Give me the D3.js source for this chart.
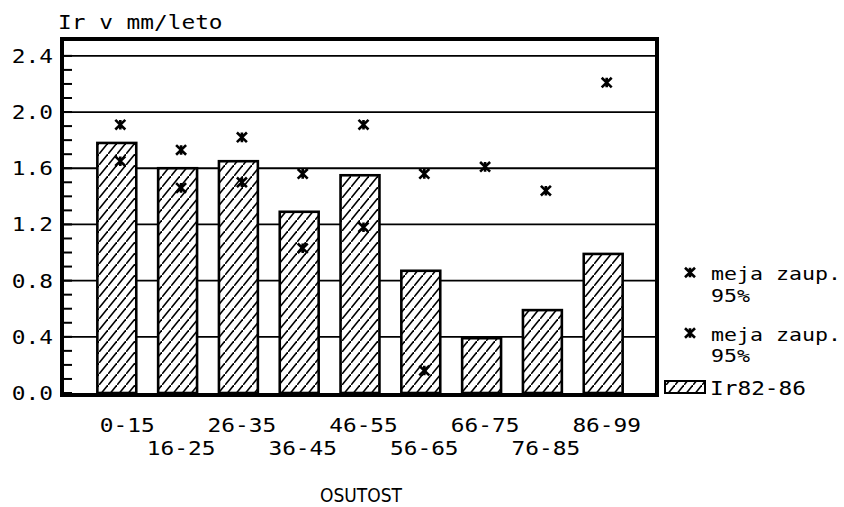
<!DOCTYPE html>
<html>
<head>
<meta charset="utf-8">
<script src="https://cdn.jsdelivr.net/npm/d3@7/dist/d3.min.js"></script>
<style>
  html, body { margin: 0; padding: 0; background: #fff; }
  svg { display: block; }
  text { font-family: "DejaVu Sans Mono", monospace; fill: #000; white-space: pre; }
</style>
</head>
<body>
<svg id="chart" width="844" height="507"></svg>
<script>
// Age-class categories (defoliation, %)
const categories = ["0-15", "16-25", "26-35", "36-45", "46-55", "56-65", "66-75", "76-85", "86-99"];
// Mean increment Ir 1982-86, mm per year
const irValues = [1.78, 1.60, 1.65, 1.29, 1.55, 0.87, 0.39, 0.59, 0.99];
// 95% confidence limits (upper and lower); lower limit below zero is not drawn
const upperLimit = [1.91, 1.73, 1.82, 1.56, 1.91, 1.56, 1.61, 1.44, 2.21];
const lowerLimit = [1.65, 1.46, 1.50, 1.03, 1.18, 0.16, null, null, null];
const yTicks = [0.0, 0.4, 0.8, 1.2, 1.6, 2.0, 2.4];
const yMinorTicks = d3.range(0, 25).map(i => i / 10);
const yTitle = "Ir v mm/leto";
const xTitle = "OSUTOST";
const legendLimit = ["meja zaup.", "95%"];
const legendBars = "Ir82-86";

const svg = d3.select("#chart");
const frame = { left: 62, right: 657, top: 39, bottom: 395 };

const x = d3.scaleBand()
  .domain(categories)
  .range([frame.left + 1, frame.right])
  .paddingInner(0.36)
  .paddingOuter(0.565);
const y = d3.scaleLinear().domain([0, 2.52]).range([393, frame.top]);
const markOffset = 3.5;

const defs = svg.append("defs");
const pat = defs.append("pattern")
  .attr("id", "hatch")
  .attr("patternUnits", "userSpaceOnUse")
  .attr("width", 9).attr("height", 11);
pat.append("rect").attr("width", 9).attr("height", 11).attr("fill", "#fff");
pat.append("path")
  .attr("d", "M-2.25,13.75 L11.25,-2.75")
  .attr("stroke", "#000").attr("stroke-width", 1.6);

// text with widened glyphs, like a plotter font
function wideText(g, str, tx, ty, size, sx, anchor) {
  return g.append("text")
    .attr("transform", `translate(${tx},${ty}) scale(${sx},1)`)
    .attr("text-anchor", anchor || "start")
    .attr("font-size", size)
    .text(str);
}

// horizontal grid lines
svg.append("g").selectAll("line")
  .data(yTicks.filter(d => d > 0))
  .join("line")
  .attr("x1", frame.left).attr("x2", frame.right)
  .attr("y1", d => y(d)).attr("y2", d => y(d))
  .attr("stroke", "#000").attr("stroke-width", 1.8);

// bars
svg.append("g").selectAll("rect")
  .data(irValues)
  .join("rect")
  .attr("x", (d, i) => x(categories[i]))
  .attr("width", x.bandwidth())
  .attr("y", d => y(d))
  .attr("height", d => y(0) - y(d))
  .attr("fill", "url(#hatch)")
  .attr("stroke", "#000").attr("stroke-width", 2.6);

// asterisk marker
const starPath = "M0,-4.8 V4.8 M-5,-4.8 L5,4.8 M5,-4.8 L-5,4.8";
function drawStars(values) {
  svg.append("g").selectAll("path")
    .data(values.map((v, i) => ({ v, c: categories[i] })).filter(d => d.v != null))
    .join("path")
    .attr("transform", d => `translate(${x(d.c) + x.bandwidth() / 2 + markOffset},${y(d.v)})`)
    .attr("d", starPath)
    .attr("fill", "none")
    .attr("stroke", "#000").attr("stroke-width", 2.6);
}
drawStars(upperLimit);
drawStars(lowerLimit);

// frame
svg.append("rect")
  .attr("x", frame.left).attr("y", frame.top)
  .attr("width", frame.right - frame.left)
  .attr("height", frame.bottom - frame.top)
  .attr("fill", "none")
  .attr("stroke", "#000").attr("stroke-width", 4);

// minor ticks on the value axis
svg.append("g").selectAll("line")
  .data(yMinorTicks)
  .join("line")
  .attr("x1", frame.left).attr("x2", frame.left + 10)
  .attr("y1", d => y(d)).attr("y2", d => y(d))
  .attr("stroke", "#000").attr("stroke-width", 2);

// value axis labels
const yl = svg.append("g");
yTicks.forEach(t => {
  wideText(yl, t.toFixed(1), 53, y(t) + 7, 19, 1.2, "end");
});
wideText(svg, yTitle, 58, 28.5, 19, 1.2, "start");

// category labels, alternating between two rows
const xl = svg.append("g");
categories.forEach((c, i) => {
  const cx = x(c) + x.bandwidth() / 2 + markOffset;
  const row = i % 2 === 0 ? 431.5 : 455;
  wideText(xl, c.padStart(5, "\u00a0"), cx, row, 19, 1.2, "middle");
});

svg.append("text")
  .attr("x", 361).attr("y", 502)
  .attr("text-anchor", "middle")
  .attr("font-size", 19)
  .style("font-family", "'DejaVu Sans Condensed', 'DejaVu Sans', sans-serif")
  .text(xTitle);

// legend
const lg = svg.append("g");
[[272.5, 280, 301.5], [333, 340.5, 361.5]].forEach(([my, t1, t2]) => {
  lg.append("path")
    .attr("transform", `translate(690,${my})`)
    .attr("d", starPath)
    .attr("fill", "none")
    .attr("stroke", "#000").attr("stroke-width", 2.6);
  wideText(lg, legendLimit[0], 711, t1, 17, 1.27, "start");
  wideText(lg, legendLimit[1], 711, t2, 17, 1.27, "start");
});
lg.append("rect")
  .attr("x", 665).attr("y", 381)
  .attr("width", 40).attr("height", 12)
  .attr("fill", "url(#hatch)")
  .attr("stroke", "#000").attr("stroke-width", 2);
wideText(lg, legendBars, 710, 395, 19, 1.2, "start");
</script>
</body>
</html>
